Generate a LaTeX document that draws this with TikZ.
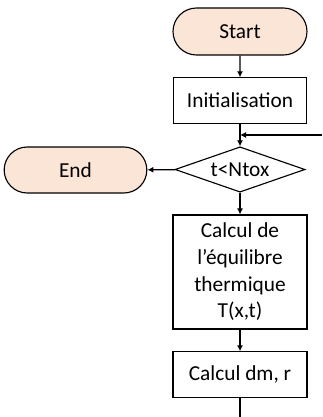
\documentclass[tikz,border=0pt]{standalone}
\usepackage{fontspec}
\setmainfont{Carlito}
\usetikzlibrary{positioning, arrows.meta, shapes.geometric, shapes.misc}
\definecolor{termfill}{RGB}{251, 229, 214}

\tikzset{
  base/.style={draw=black, line width=0.85pt, font=\fontsize{16}{20}\selectfont, inner sep=0pt},
  term/.style={base, rounded rectangle, fill=termfill},
  procbox/.style={base, rectangle, fill=white, align=center},
  decision/.style={base, diamond, fill=white, aspect=2.9},
  flow/.style={line width=0.85pt, -{Latex[length=4.5pt, width=4.5pt]}}
}

\begin{document}
\begin{tikzpicture}[x=0.75pt, y=-0.75pt]
  \useasboundingbox (0,0) rectangle (322,417);

  % --- main column ---
  \node[term, minimum width=100.5pt, minimum height=35.25pt] (start) at (240, 31.5) {Start};
  \node[procbox, minimum width=100pt, minimum height=34pt] (init) at (240, 100.5) {Initialisation};
  \node[decision, minimum width=97.5pt, minimum height=34pt] (test) at (240, 169.5) {t<Ntox};
  \node[procbox, minimum width=100.5pt, minimum height=85.5pt] (therm) at (240, 272)
    {Calcul de\\l’équilibre\\thermique\\T(x,t)};
  \node[procbox, minimum width=100.5pt, minimum height=34pt] (calc) at (240, 374.5) {Calcul dm, r};

  % --- exit ---
  \node[term, minimum width=107pt, minimum height=34.5pt] (stop) at (75.5, 170) {End};

  % --- connectors ---
  \draw[flow] (start) -- (init);
  \draw[flow] (init) -- (test);
  \draw[flow] (test) -- (therm);
  \draw[flow] (therm) -- (calc);
  \draw[flow] (test) -- (stop);

  % loop back in from the right, loop out at the bottom
  \coordinate (loopin) at (322, 135);
  \coordinate (loopout) at (240, 417);
  \draw[flow] (loopin) -- (init.south |- loopin);
  \draw[line width=0.85pt] (calc) -- (loopout);
\end{tikzpicture}
\end{document}
